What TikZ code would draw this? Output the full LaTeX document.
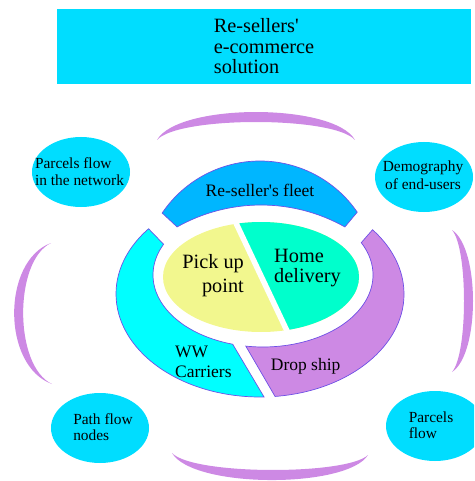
\documentclass[tikz,border=0pt]{standalone}
\usepackage{fontspec}
\setmainfont{Liberation Serif}
\usetikzlibrary{shapes.geometric,calc}
\definecolor{boxcyan}{RGB}{0,221,255}
\definecolor{fleetblue}{RGB}{0,182,255}
\definecolor{wwcyan}{RGB}{0,255,255}
\definecolor{lilac}{RGB}{205,137,228}
\definecolor{pieyellow}{RGB}{242,247,142}
\definecolor{piegreen}{RGB}{0,255,204}
\definecolor{edgeblue}{RGB}{110,80,230}
\begin{document}
\begin{tikzpicture}[x=1pt,y=-1pt,
  titlebox/.style={rectangle, fill=boxcyan, minimum width=414pt, minimum height=75pt,
    inner sep=0pt, align=left, font=\fontsize{20.3}{20.5}\selectfont},
  bubble/.style={ellipse, fill=boxcyan, minimum width=98pt, minimum height=70pt, inner sep=0pt},
  bubbletext/.style={inner sep=0pt, font=\fontsize{15.4}{16.5}\selectfont},
  ringpart/.style={draw=edgeblue, line width=0.7pt},
  crescent/.style={fill=lilac},
  bigtext/.style={inner sep=0pt, font=\fontsize{20.3}{20.3}\selectfont},
  ringtext/.style={inner sep=0pt, font=\fontsize{17.5}{20}\selectfont},
]
\useasboundingbox (0,0) rectangle (474,481);
\clip (0,0) rectangle (474,481);

% title
\node[titlebox] (title) at (264,46.5) {Re-sellers\textquotesingle\\e-commerce\\solution};

% crescents
\fill[crescent] (157,140) .. controls (178,102.7) and (334,102.7) .. (355,140)
  .. controls (334,116) and (178,116) .. (157,140) -- cycle;
\fill[crescent] (51,243) .. controls (1.7,261) and (1.7,366) .. (52,384)
  .. controls (13.7,366) and (13.7,261) .. (51,243) -- cycle;
\fill[crescent] (452,230) .. controls (480,248) and (480,354) .. (452,372)
  .. controls (468,354) and (468,248) .. (452,230) -- cycle;
\fill[crescent] (172,453) .. controls (193,488.7) and (347,488.7) .. (368,455)
  .. controls (347,475.3) and (193,475.3) .. (172,453) -- cycle;

% bubbles
\node[bubble] (e1) at (81,172) {};
\node[bubble] (e2) at (424,177) {};
\node[bubble] (e3) at (100,428) {};
\node[bubble] (e4) at (435,426) {};
\node[bubbletext, align=left, font=\fontsize{15.4}{17}\selectfont] (t1) at (79.5,171.5) {Parcels flow\\in the network};
\node[bubbletext, align=center, font=\fontsize{15.4}{17.5}\selectfont] (t2) at (423,175.2) {Demography\\of end-users};
\node[bubbletext, align=left] (t3) at (103,427) {Path flow\\nodes};
\node[bubbletext, align=left] (t4) at (431,425) {Parcels\\flow};

% re-seller's fleet
\path[ringpart, fill=fleetblue] ($(260,279)+(214:118)$)
  arc[start angle=214, end angle=325.5, radius=118]
  -- ($(261,376.4)+(299.3:171.4)$)
  arc[start angle=299.3, end angle=240.7, radius=171.4] -- cycle;
\node[ringtext] (fleet) at (260,190) {Re-seller\textquotesingle s fleet};

% WW carriers
\path[ringpart, fill=wwcyan] ($(260,294)+(219.3:144 and 103)$)
  arc[start angle=219.3, end angle=88.4, x radius=144, y radius=103]
  -- ($(263,275)+(106:110 and 72)$)
  arc[start angle=106, end angle=205.3, x radius=110, y radius=72] -- cycle;
\node[ringtext, align=left, anchor=west] (ww) at (175,361.5) {WW\\Carriers};

% drop ship
\path[ringpart, fill=lilac] ($(260,294)+(84:144 and 103)$)
  arc[start angle=84, end angle=-38.6, x radius=144, y radius=103]
  -- ($(263,275)+(-26.7:110 and 72)$)
  arc[start angle=-26.7, end angle=99, x radius=110, y radius=72] -- cycle;
\node[ringtext, anchor=west] (drop) at (270.7,365.9) {Drop ship};

% pie
\fill[pieyellow] (261,277) ellipse[x radius=98, y radius=55];
\begin{scope}
  \clip (225.1,200) -- (296,350) -- (400,350) -- (400,200) -- cycle;
  \fill[piegreen] (261,277) ellipse[x radius=98, y radius=55];
\end{scope}
\draw[white, line width=5.5pt] (232.2,215) -- (291.3,340);
\node[bigtext, align=right, anchor=east, font=\fontsize{20.3}{23.5}\selectfont] (pick) at (244,275.8) {Pick up\\point};
\node[bigtext, align=left, anchor=west] (home) at (274,268.3) {Home\\delivery};
\end{tikzpicture}
\end{document}
